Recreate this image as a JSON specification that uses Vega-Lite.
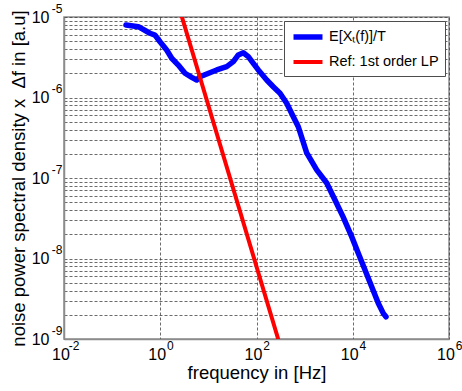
{
  "$schema": "https://vega.github.io/schema/vega-lite/v6.json",
  "width": 385,
  "height": 322,
  "autosize": "none",
  "padding": {"left": 64, "top": 17, "right": 13, "bottom": 52},
  "background": "white",
  "config": {
    "font": "Liberation Sans",
    "view": {"stroke": "#8c8c8c", "strokeWidth": 1.5},
    "axis": {
      "domainColor": "#8c8c8c",
      "domainWidth": 1.5,
      "gridColor": "#3a3a3a",
      "gridDash": [3, 2],
      "gridOpacity": 0.75,
      "gridWidth": 1,
      "ticks": false,
      "tickSize": 0,
      "labelFont": "Liberation Sans",
      "labelColor": "#000",
      "titleFont": "Liberation Sans",
      "titleFontSize": 18.5,
      "titleFontWeight": "normal",
      "titleColor": "#000",
      "labelFlush": false,
      "labelOverlap": false
    }
  },
  "data": {
    "values": [
      {"series": "E[Xₜ(f)]/T", "f": 0.194, "P": 7.96e-6},
      {"series": "E[Xₜ(f)]/T", "f": 0.35, "P": 7.58e-6},
      {"series": "E[Xₜ(f)]/T", "f": 0.612, "P": 6.28e-6},
      {"series": "E[Xₜ(f)]/T", "f": 0.778, "P": 5.97e-6},
      {"series": "E[Xₜ(f)]/T", "f": 0.989, "P": 4.93e-6},
      {"series": "E[Xₜ(f)]/T", "f": 1.36, "P": 3.89e-6},
      {"series": "E[Xₜ(f)]/T", "f": 1.73, "P": 3.07e-6},
      {"series": "E[Xₜ(f)]/T", "f": 2.37, "P": 2.53e-6},
      {"series": "E[Xₜ(f)]/T", "f": 3.27, "P": 2.0e-6},
      {"series": "E[Xₜ(f)]/T", "f": 4.51, "P": 1.78e-6},
      {"series": "E[Xₜ(f)]/T", "f": 5.72, "P": 1.65e-6},
      {"series": "E[Xₜ(f)]/T", "f": 6.7, "P": 1.81e-6},
      {"series": "E[Xₜ(f)]/T", "f": 9.23, "P": 1.96e-6},
      {"series": "E[Xₜ(f)]/T", "f": 14.9, "P": 2.2e-6},
      {"series": "E[Xₜ(f)]/T", "f": 24.0, "P": 2.42e-6},
      {"series": "E[Xₜ(f)]/T", "f": 33.0, "P": 2.79e-6},
      {"series": "E[Xₜ(f)]/T", "f": 41.9, "P": 3.38e-6},
      {"series": "E[Xₜ(f)]/T", "f": 53.2, "P": 3.6e-6},
      {"series": "E[Xₜ(f)]/T", "f": 67.6, "P": 3.22e-6},
      {"series": "E[Xₜ(f)]/T", "f": 85.9, "P": 2.66e-6},
      {"series": "E[Xₜ(f)]/T", "f": 109, "P": 2.2e-6},
      {"series": "E[Xₜ(f)]/T", "f": 163, "P": 1.65e-6},
      {"series": "E[Xₜ(f)]/T", "f": 223, "P": 1.36e-6},
      {"series": "E[Xₜ(f)]/T", "f": 308, "P": 1.13e-6},
      {"series": "E[Xₜ(f)]/T", "f": 424, "P": 8.47e-7},
      {"series": "E[Xₜ(f)]/T", "f": 582, "P": 5.77e-7},
      {"series": "E[Xₜ(f)]/T", "f": 739, "P": 4.33e-7},
      {"series": "E[Xₜ(f)]/T", "f": 1104, "P": 2.05e-7},
      {"series": "E[Xₜ(f)]/T", "f": 1782, "P": 1.26e-7},
      {"series": "E[Xₜ(f)]/T", "f": 2877, "P": 8.67e-8},
      {"series": "E[Xₜ(f)]/T", "f": 4276, "P": 5.33e-8},
      {"series": "E[Xₜ(f)]/T", "f": 6266, "P": 3.31e-8},
      {"series": "E[Xₜ(f)]/T", "f": 9506, "P": 1.87e-8},
      {"series": "E[Xₜ(f)]/T", "f": 13030, "P": 1.16e-8},
      {"series": "E[Xₜ(f)]/T", "f": 17990, "P": 7.2e-9},
      {"series": "E[Xₜ(f)]/T", "f": 24770, "P": 4.46e-9},
      {"series": "E[Xₜ(f)]/T", "f": 33960, "P": 2.78e-9},
      {"series": "E[Xₜ(f)]/T", "f": 43150, "P": 2.08e-9},
      {"series": "E[Xₜ(f)]/T", "f": 49090, "P": 1.89e-9},
      {"series": "Ref: 1st order LP", "f": 2.82, "P": 1e-5},
      {"series": "Ref: 1st order LP", "f": 282, "P": 1e-9}
    ]
  },
  "layer": [
    {
      "mark": {"type": "line", "clip": true, "strokeCap": "round", "strokeJoin": "round"},
      "encoding": {
        "x": {
          "field": "f",
          "type": "quantitative",
          "scale": {"type": "log", "domain": [0.01, 1000000], "nice": false},
          "axis": {
            "title": "frequency in [Hz]",
            "values": [0.01, 1, 100, 10000, 1000000],
            "labelExpr": "'10'",
            "labelFontSize": 16,
            "labelPadding": 7,
            "labelOffset": -3.5,
            "titlePadding": 1
          }
        },
        "y": {
          "field": "P",
          "type": "quantitative",
          "scale": {"type": "log", "domain": [1e-9, 1e-5], "nice": false},
          "axis": {
            "title": "noise power spectral density x\u00a0 Δf in [a.u]",
            "values": [1e-9, 2e-9, 3e-9, 4e-9, 5e-9, 6e-9, 7e-9, 8e-9, 9e-9, 1e-8, 2e-8, 3e-8, 4e-8, 5e-8, 6e-8, 7e-8, 8e-8, 9e-8, 1e-7, 2e-7, 3e-7, 4e-7, 5e-7, 6e-7, 7e-7, 8e-7, 9e-7, 1e-6, 2e-6, 3e-6, 4e-6, 5e-6, 6e-6, 7e-6, 8e-6, 9e-6, 1e-5],
            "labelExpr": "abs(log(datum.value)/LN10 - round(log(datum.value)/LN10)) < 0.001 ? '10' : ''",
            "labelFontSize": 16,
            "labelPadding": 15,
            "titlePadding": 3
          }
        },
        "color": {
          "field": "series",
          "type": "nominal",
          "scale": {"domain": ["E[Xₜ(f)]/T", "Ref: 1st order LP"], "range": ["#0000ff", "#ff0000"]},
          "legend": {
            "title": null,
            "orient": "top-right",
            "offset": 4,
            "fillColor": "white",
            "strokeColor": "#4d4d4d",
            "padding": 6,
            "labelFontSize": 14.5,
            "labelFont": "Liberation Sans",
            "labelColor": "#000",
            "symbolType": "M-2.07,0H2.07",
            "symbolSize": 196,
            "symbolStrokeWidth": 3.5,
            "symbolOffset": 8,
            "rowPadding": 5,
            "labelOffset": 11
          }
        },
        "strokeWidth": {
          "field": "series",
          "type": "nominal",
          "scale": {"domain": ["E[Xₜ(f)]/T", "Ref: 1st order LP"], "range": [5.5, 4]},
          "legend": null
        }
      }
    },
    {
      "mark": {"type": "point", "opacity": 0},
      "encoding": {
        "x": {
          "field": "f",
          "type": "quantitative",
          "axis": {
            "orient": "bottom",
            "title": null,
            "grid": false,
            "domain": false,
            "values": [0.01, 1, 100, 10000, 1000000],
            "labelExpr": "'' + round(log(datum.value)/LN10)",
            "labelFontSize": 12,
            "labelAlign": "center",
            "labelOffset": 9.5,
            "labelPadding": 1
          }
        },
        "y": {
          "field": "P",
          "type": "quantitative",
          "axis": {
            "orient": "left",
            "title": null,
            "grid": false,
            "domain": false,
            "values": [1e-9, 1e-8, 1e-7, 1e-6, 1e-5],
            "labelExpr": "'' + round(log(datum.value)/LN10)",
            "labelFontSize": 12,
            "labelAlign": "right",
            "labelOffset": -9,
            "labelPadding": 2
          }
        }
      }
    }
  ],
  "resolve": {"axis": {"x": "independent", "y": "independent"}}
}
